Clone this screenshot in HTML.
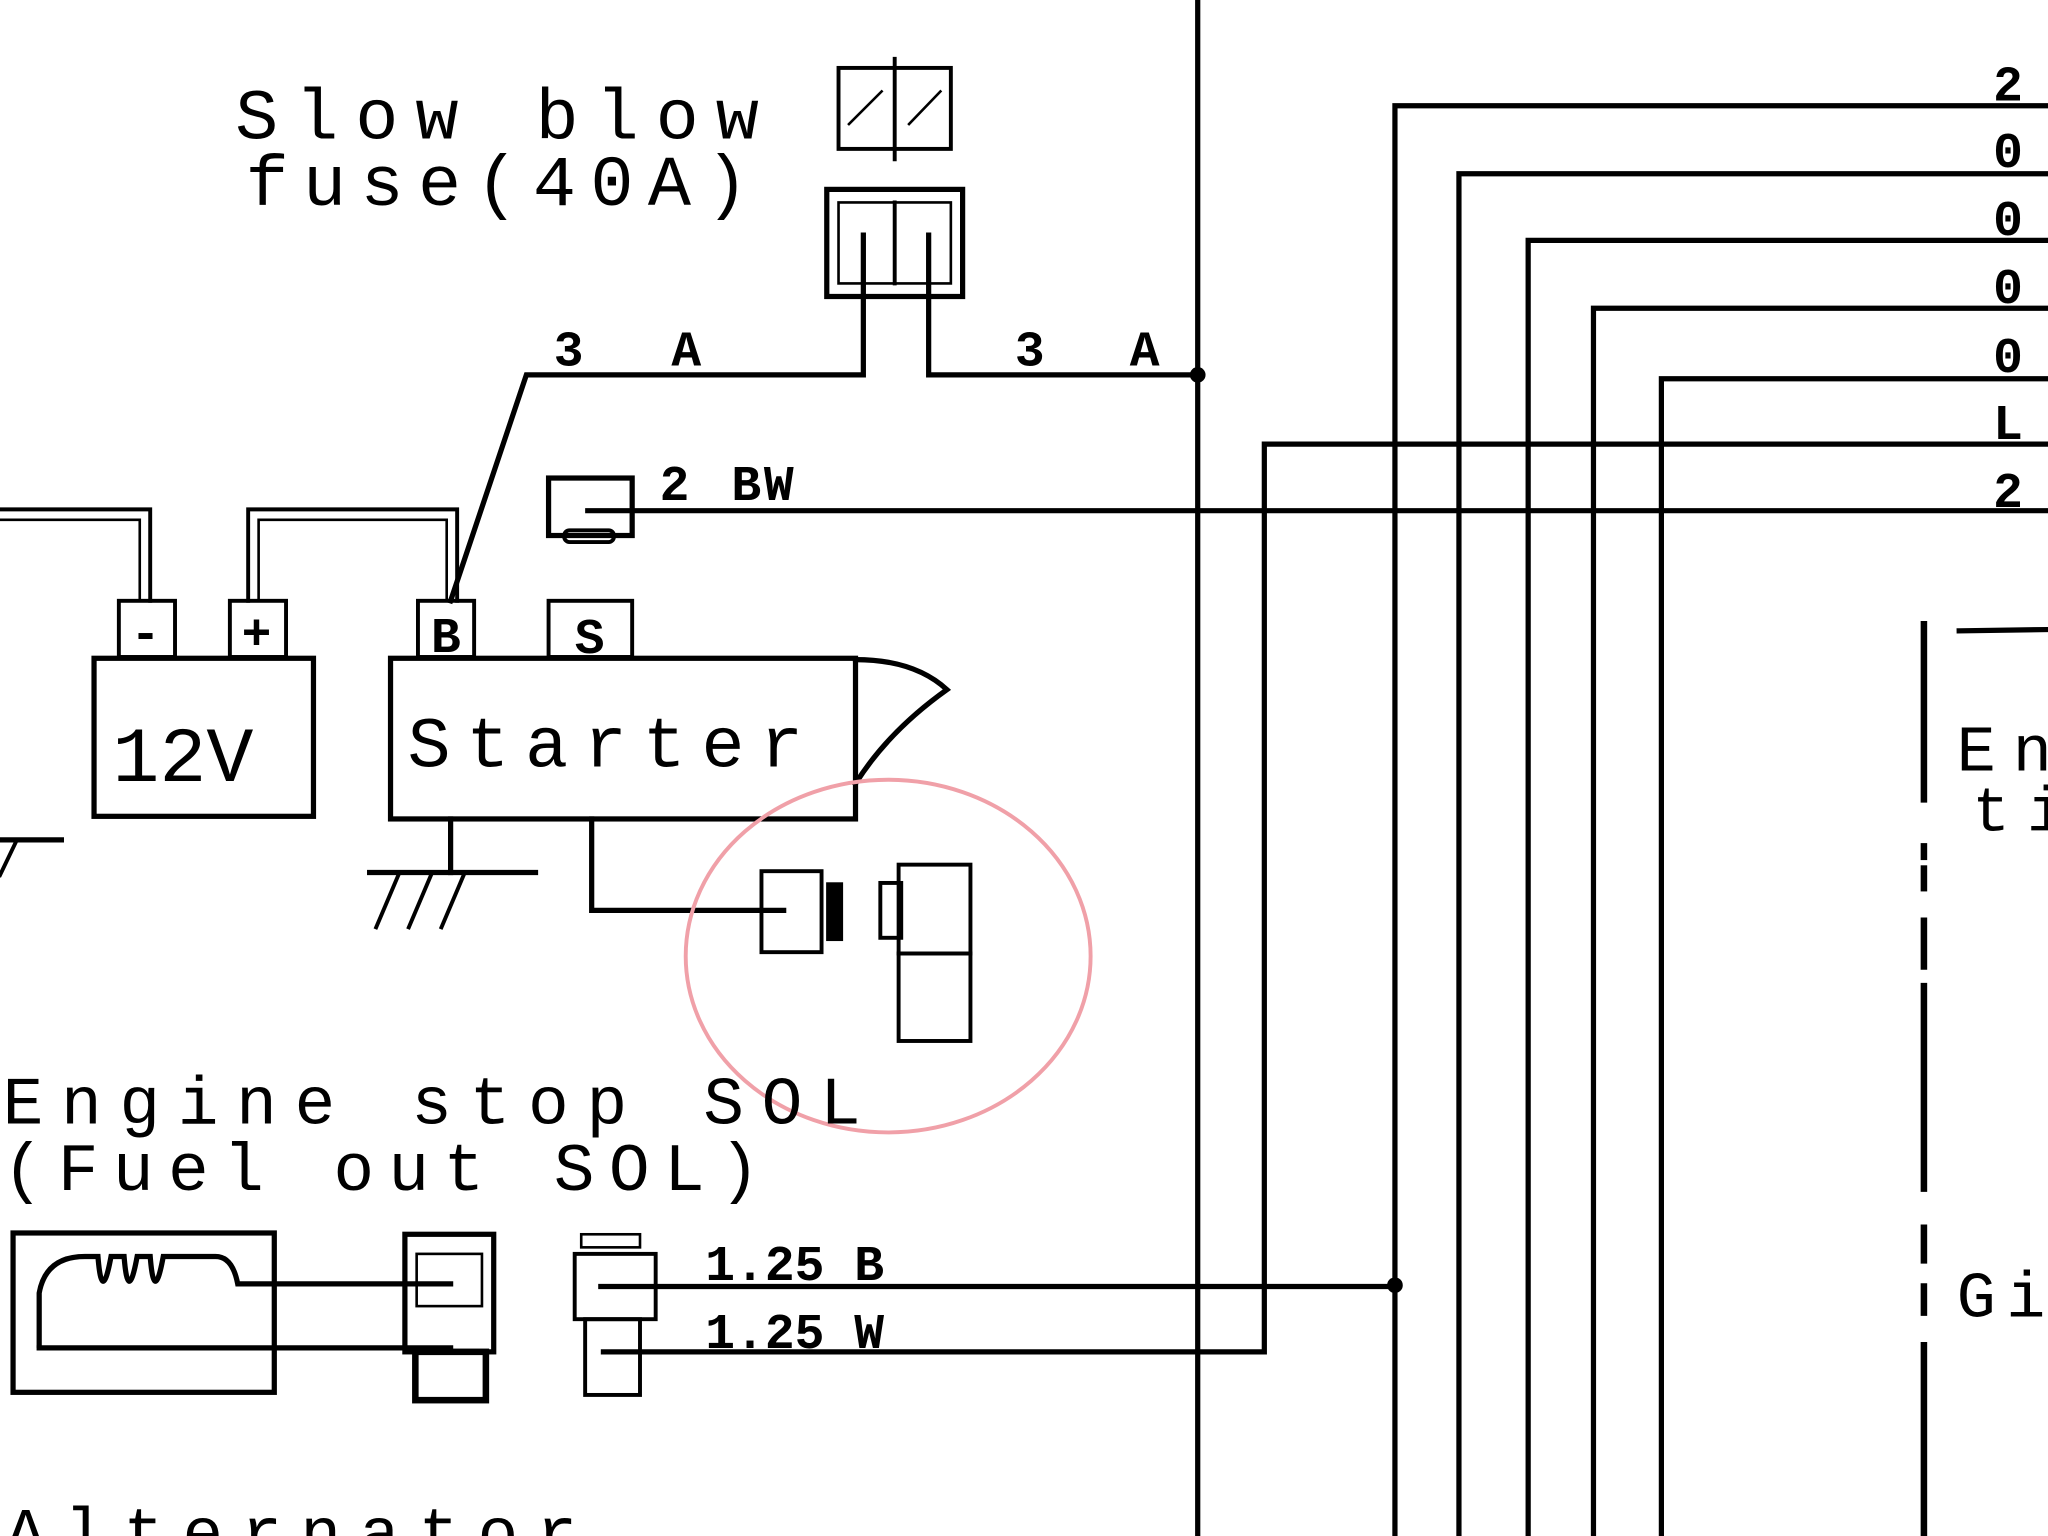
<!DOCTYPE html>
<html><head><meta charset="utf-8"><style>
html,body{margin:0;padding:0;background:#fff;}
svg{display:block;}
text{font-family:"Liberation Mono",monospace;fill:#000;}
</style></head><body>
<svg width="2048" height="1536" viewBox="0 0 1568 1176" xmlns="http://www.w3.org/2000/svg">
<rect width="1568" height="1176" fill="#fff"/>
<g stroke="#000" stroke-width="4" fill="none" stroke-linecap="square">
<line x1="917" y1="0" x2="917" y2="1176"/>
<polyline points="345,460 403,287 661,287 661,180"/>
<polyline points="711,180 711,287 917,287"/>
<rect x="633" y="145" width="104" height="82"/>
<rect x="642" y="155" width="86" height="62" stroke-width="2"/>
<line x1="685" y1="155" x2="685" y2="217" stroke-width="3"/>
<rect x="642" y="52" width="86" height="62" stroke-width="3"/>
<line x1="685" y1="45" x2="685" y2="122" stroke-width="3"/>
<line x1="650" y1="95" x2="675" y2="70" stroke-width="2"/>
<line x1="696" y1="95" x2="720" y2="70" stroke-width="2"/>
<line x1="450" y1="391" x2="1568" y2="391"/>
<rect x="420" y="366" width="64" height="44"/>
<rect x="432" y="406" width="38" height="9" rx="4" stroke-width="3"/>
<polyline points="0,390 115,390 115,460" stroke-width="3"/>
<polyline points="0,398 107,398 107,460" stroke-width="2"/>
<polyline points="190,460 190,390 350,390 350,460" stroke-width="3"/>
<polyline points="198,460 198,398 342,398 342,460" stroke-width="2"/>
<rect x="91" y="460" width="43" height="43" stroke-width="3"/>
<rect x="176" y="460" width="43" height="43" stroke-width="3"/>
<rect x="320" y="460" width="43" height="43" stroke-width="3"/>
<rect x="420" y="460" width="64" height="43" stroke-width="3"/>
<rect x="72" y="504" width="168" height="121"/>
<rect x="299" y="504" width="356" height="123"/>
<path d="M655,505 Q700,505 725,528 Q680,560 655,600"/>
<line x1="345" y1="627" x2="345" y2="668"/>
<line x1="283" y1="668" x2="410" y2="668"/>
<line x1="305" y1="670" x2="288" y2="710" stroke-width="3"/>
<line x1="330" y1="670" x2="313" y2="710" stroke-width="3"/>
<line x1="355" y1="670" x2="338" y2="710" stroke-width="3"/>
<line x1="0" y1="643" x2="47" y2="643"/>
<line x1="12" y1="645" x2="0" y2="670" stroke-width="3"/>
<polyline points="453,627 453,697 600,697"/>
<rect x="583" y="667" width="46" height="62" stroke-width="3"/>
<rect x="633" y="676" width="12" height="44" fill="#000" stroke-width="1"/>
<rect x="674" y="676" width="16" height="42" stroke-width="3"/>
<rect x="688" y="662" width="55" height="68" stroke-width="3"/>
<rect x="688" y="730" width="55" height="67" stroke-width="3"/>
<rect x="10" y="944" width="200" height="122"/>
<path d="M30,1030 L30,990 Q35,962 65,962 L75,962 Q78,1000 85,962 L95,962 Q98,1000 105,962 L115,962 Q118,1000 125,962 L165,962 Q178,962 182,983 L345,983"/>
<line x1="30" y1="1032" x2="345" y2="1032"/>
<rect x="310" y="945" width="68" height="90" stroke-width="4"/>
<rect x="319" y="960" width="50" height="40" stroke-width="2"/>
<rect x="318" y="1035" width="54" height="37" stroke-width="5"/>
<rect x="440" y="960" width="62" height="50" stroke-width="3"/>
<rect x="448" y="1010" width="42" height="58" stroke-width="3"/>
<rect x="445" y="945" width="45" height="10" stroke-width="2"/>
<line x1="460" y1="985" x2="1068" y2="985"/>
<polyline points="462,1035 968,1035 968,340 1568,340"/>
<polyline points="1068,1176 1068,81 1568,81"/>
<polyline points="1117,1176 1117,133 1568,133"/>
<polyline points="1170,1176 1170,184 1568,184"/>
<polyline points="1220,1176 1220,236 1568,236"/>
<polyline points="1272,1176 1272,290 1568,290"/>
<line x1="1473" y1="478" x2="1473" y2="612" stroke-width="5"/>
<line x1="1473" y1="648" x2="1473" y2="656" stroke-width="5"/>
<line x1="1473" y1="665" x2="1473" y2="680" stroke-width="5"/>
<line x1="1473" y1="705" x2="1473" y2="740" stroke-width="5"/>
<line x1="1473" y1="755" x2="1473" y2="910" stroke-width="5"/>
<line x1="1473" y1="940" x2="1473" y2="965" stroke-width="5"/>
<line x1="1473" y1="985" x2="1473" y2="1005" stroke-width="5"/>
<line x1="1473" y1="1030" x2="1473" y2="1176" stroke-width="5"/>
<line x1="1500" y1="483" x2="1568" y2="482" stroke-width="4"/>
</g>
<g fill="#000">
<circle cx="917" cy="287" r="6"/>
<circle cx="1068" cy="984" r="6"/>
</g>
<ellipse cx="680" cy="732" rx="155" ry="135" fill="none" stroke="#f0a0a8" stroke-width="3"/>
<g font-size="55" letter-spacing="13">
<text x="180" y="106">Slow blow</text>
<text x="188" y="157" letter-spacing="11">fuse(40A)</text>
<text x="312" y="587" letter-spacing="12">Starter</text>
<text x="86" y="598" font-size="60" letter-spacing="0">12V</text>
<text x="2" y="860" font-size="52" letter-spacing="13.5">Engine stop SOL</text>
<text x="2" y="911" font-size="52" letter-spacing="11">(Fuel out SOL)</text>
<text x="4" y="1190" font-size="52" letter-spacing="14">Alternator</text>
<text x="1498" y="590" font-size="50">En</text>
<text x="1510" y="636" font-size="48">ti</text>
<text x="1498" y="1008" font-size="50" letter-spacing="8">Gi</text>
</g>
<g font-size="38" font-weight="bold">
<text x="100" y="497">-</text>
<text x="185" y="497">+</text>
<text x="330" y="499">B</text>
<text x="440" y="500">S</text>
<text x="424" y="280">3</text>
<text x="514" y="280">A</text>
<text x="777" y="280">3</text>
<text x="865" y="280">A</text>
<text x="505" y="383">2</text>
<text x="560" y="383" letter-spacing="2">BW</text>
<text x="540" y="980">1.25 B</text>
<text x="540" y="1032">1.25 W</text>
<text x="1526" y="77">2</text>
<text x="1526" y="128">0</text>
<text x="1526" y="180">0</text>
<text x="1526" y="232">0</text>
<text x="1526" y="285">0</text>
<text x="1526" y="336">L</text>
<text x="1526" y="388">2</text>
</g>
</svg>
</body></html>
